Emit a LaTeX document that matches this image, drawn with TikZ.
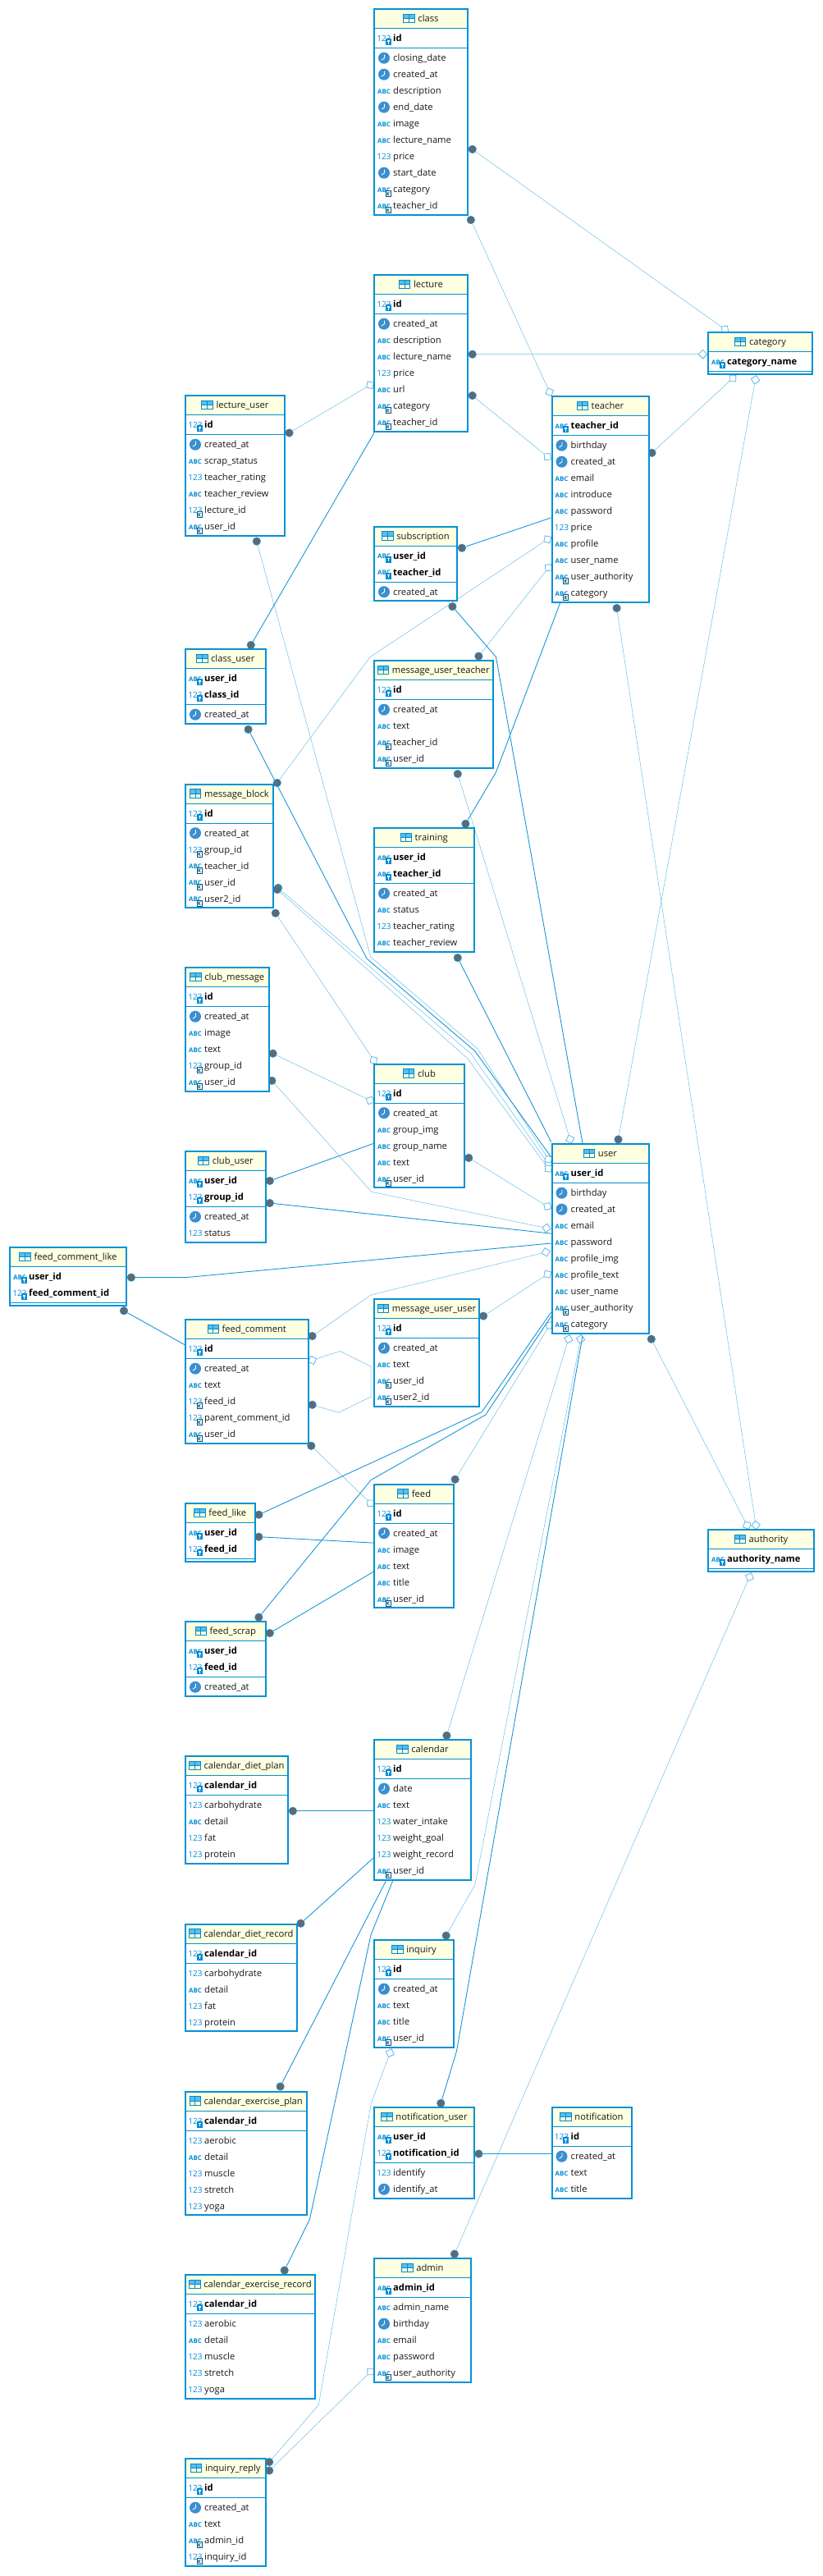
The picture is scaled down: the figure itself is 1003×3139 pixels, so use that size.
\documentclass[tikz,border=0pt]{standalone}
\usepackage{fontspec}
\setmainfont{Open Sans}
\usepackage{xcolor}
\usepackage{tikz}
\usetikzlibrary{calc}
\usetikzlibrary{positioning}

\definecolor{tabblue}{RGB}{0,146,214}
\definecolor{tabhead}{RGB}{255,255,225}
\definecolor{iconblue}{RGB}{0,140,210}
\definecolor{iconlight}{RGB}{90,190,235}
\definecolor{clockblue}{RGB}{58,143,208}
\definecolor{dotgrey}{RGB}{98,104,112}
\definecolor{linelight}{RGB}{105,190,232}
\definecolor{linedark}{RGB}{25,150,215}
\definecolor{rowink}{RGB}{25,25,25}

% small marks in front of the column names
\newcommand{\iconabc}[1]{\node[iconword,font=\fontsize{7.8}{8}\selectfont\bfseries] (#1-i) at ($(#1)+(13,1)$) {ABC};}
\newcommand{\iconnum}[1]{\node[iconword,font=\fontsize{10}{10}\selectfont] (#1-i) at ($(#1)+(13,0.5)$) {123};}
\newcommand{\iconclock}[1]{\node[clockmark] (#1-i) at ($(#1)+(13,0)$) {};
  \draw[white,line width=0.9pt] (#1-i.center) ++(0.5,-4) -- ++(0,4) -- ++(-3.5,2.5);}
\newcommand{\badgepk}[1]{\fill[iconblue] ($(#1)+(14.5,0.5)$) rectangle ++(7,8);
  \fill[white] ($(#1)+(16.5,2.5)$) rectangle ++(3,1.5);
  \fill[white] ($(#1)+(17.5,4)$) rectangle ++(1,3);}
\newcommand{\badgefk}[1]{\filldraw[fill=white,draw=iconblue!60!black,line width=0.8pt] ($(#1)+(15,2)$) rectangle ++(6,7);
  \draw[iconblue!60!black,line width=0.7pt] ($(#1)+(17,3.5)$) -- ++(0,4) ($(#1)+(19.5,3.5)$) -- ++(-2.5,2) -- ++(2.5,2);}
\newcommand{\iconabcpk}[1]{\iconabc{#1}\badgepk{#1}}
\newcommand{\iconnumpk}[1]{\iconnum{#1}\badgepk{#1}}
\newcommand{\iconabcfk}[1]{\iconabc{#1}\badgefk{#1}}
\newcommand{\iconnumfk}[1]{\iconnum{#1}\badgefk{#1}}

% table: name, left, top, width, key columns, other columns
\newcommand{\dbtable}[6]{%
  \def\nk{0}\def\nc{0}%
  \foreach \ty/\nm [count=\i] in {#5}{\xdef\nk{\i}}%
  \if\relax\detokenize{#6}\relax\else\foreach \ty/\nm [count=\i] in {#6}{\xdef\nc{\i}}\fi
  \pgfmathsetmacro\ha{24+20*\nk+4}%
  \pgfmathsetmacro\hb{\ha+20*\nc+4.5}%
  \node[tabbox,minimum width={#4-2},minimum height={\hb-2}] (#1) at (#2,#3) {};
  \fill[tabhead] (#2+2,#3+2) rectangle ++(#4-4,22);
  \draw[tabrule] (#2+1,#3+24.5) -- ++(#4-2,0);
  \draw[tabrule] (#2+1,#3+\ha+0.5) -- ++(#4-2,0);
  \node[tabtitle] (#1-title) at (#2+#4/2+9,#3+12.5) {#1};
  \node[tabicon,left=4pt of #1-title] (#1-icon) {};
  \fill[iconlight] (#1-icon.north west) rectangle (#1-icon.east);
  \draw[iconblue,line width=0.9pt] (#1-icon.north west) rectangle (#1-icon.south east)
    (#1-icon.west) -- (#1-icon.east) (#1-icon.north) -- (#1-icon.south);
  \foreach \ty/\nm [count=\i] in {#5}{
    \pgfmathsetmacro\yy{#3+36.7+20*(\i-1)}
    \coordinate (#1-k\i) at (#2,\yy);
    \csname icon\ty\endcsname{#1-k\i}
    \node[keytext,right=24pt of #1-k\i] (#1-k\i-t) {\nm};
  }
  \if\relax\detokenize{#6}\relax\else
  \foreach \ty/\nm [count=\i] in {#6}{
    \pgfmathsetmacro\yy{#3+\ha+12.7+20*(\i-1)}
    \coordinate (#1-c\i) at (#2,\yy);
    \csname icon\ty\endcsname{#1-c\i}
    \node[rowtext,right=24pt of #1-c\i] (#1-c\i-t) {\nm};
  }
  \fi
}

% open end of a link, turned along the line that reaches it
\newcommand{\relopen}[3]{\path let \p1=($(#2)-(#3)$), \n1={atan2(\y1,\x1)} in
  node[openend,rotate=\n1+45] (#1) at (#2) {};}

\catcode`\_=12

\begin{document}
\begin{tikzpicture}[x=1pt,y=-1pt]
  \tikzstyle{tabbox}=[draw=tabblue,fill=white,line width=2pt,anchor=north west,inner sep=0pt]
  \tikzstyle{tabrule}=[draw=tabblue,line width=1pt]
  \tikzstyle{tabtitle}=[inner sep=0pt,text height=10pt,text depth=2pt,text=rowink,font=\fontsize{11.2}{13}\selectfont]
  \tikzstyle{tabicon}=[minimum width=13pt,minimum height=10pt,inner sep=0pt]
  \tikzstyle{rowtext}=[inner sep=0pt,text height=10pt,text depth=2pt,text=rowink,font=\fontsize{11.2}{13}\selectfont]
  \tikzstyle{keytext}=[rowtext,font=\fontsize{11.2}{13}\selectfont\bfseries,text=black]
  \tikzstyle{iconword}=[inner sep=0pt,text=iconblue]
  \tikzstyle{clockmark}=[circle,fill=clockblue,minimum size=14pt,inner sep=0pt]
  \tikzstyle{reldot}=[circle,fill=dotgrey,draw=linedark,line width=0.6pt,minimum size=9.5pt,inner sep=0pt]
  \tikzstyle{openend}=[rectangle,draw=linedark!70!white,fill=white,line width=0.8pt,minimum size=7.5pt,inner sep=0pt]
  \tikzstyle{rel}=[draw=linelight,line width=0.5pt]
  \tikzstyle{relid}=[draw=linedark,line width=0.9pt]

  \useasboundingbox (0,0) rectangle (1003,3139);

  % links with an open end
  \foreach \id/\xa/\ya/\xb/\yb in {
    1/575.7/181.9/883.4/401.3, 2/573.8/268/669.7/477.7, 3/575.7/431.7/856.5/431.7,
    4/575.7/482/667.2/556.5, 5/352.5/527.5/451/469.2, 6/794.5/551.8/893/461,
    7/751.6/741/921.1/1858.5, 8/793.8/1631.7/910.3/1858.5, 9/753.5/1388.5/920.5/462.8,
    10/583.4/799.6/668.5/691.7, 11/557.8/943/694.7/1388.2, 12/335.8/1112.7/455.5/1291.9,
    13/332.6/1283.7/451/1340.9, 14/571.2/1410.9/667.2/1470, 15/589.1/1603.6/667.2/1552.8,
    16/379.3/1761.8/451.6/1831.8, 17/554.6/1802.7/669.7/1615.1, 18/544.4/2114.8/692.8/1631.7,
    19/328.2/3010.5/451.6/2890, 20/553.9/2746.6/913.4/1921.7}{
    \node[reldot] (d\id) at (\xa,\ya) {};
    \relopen{o\id}{\xb,\yb}{d\id}
    \draw[rel] (d\id) -- (o\id);
  }

  % same, bent once
  \foreach \id/\xa/\ya/\xv/\yv/\xb/\yb in {
    21/337.7/954/451/800.6/667.2/657.3, 22/339/1082/574/1284/668.3/1418.3,
    23/338/1084/570/1290/668.3/1424, 24/331.4/1316.9/452.9/1452.4/665.9/1496.4,
    25/380.6/1628/452.2/1577.9/665.3/1525.8, 26/543.7/2358.6/578.9/2296.4/707.5/1631.7}{
    \node[reldot] (d\id) at (\xa,\ya) {};
    \coordinate (v\id) at (\xv,\yv);
    \relopen{o\id}{\xb,\yb}{v\id}
    \draw[rel] (d\id) -- (v\id) -- (o\id);
  }

  % bent more than once
  \node[reldot] (d27) at (312.8,659.6) {};
  \coordinate (v27a) at (451.7,1166);
  \coordinate (v27b) at (582,1278);
  \relopen{o27}{668.3,1412.7}{v27b}
  \draw[rel] (d27) -- (v27a) -- (v27b) -- (o27);

  \node[reldot] (d28) at (380.6,1711.8) {};
  \coordinate (v28a) at (412.6,1721.3);
  \coordinate (v28b) at (452.2,1702);
  \coordinate (v28c) at (452.2,1665.1);
  \coordinate (v28d) at (414.5,1646.5);
  \relopen{o28}{380.6,1657.4}{v28d}
  \draw[rel] (d28) -- (v28a) -- (v28b) -- (v28c) -- (v28d) -- (o28);

  \node[reldot] (d29) at (328.2,3000) {};
  \coordinate (v29a) at (388.3,2930.5);
  \coordinate (v29b) at (452.2,2563.4);
  \relopen{o29}{475.3,2501.6}{v29b}
  \draw[rel] (d29) -- (v29a) -- (v29b) -- (o29);

  % links that end on the table edge
  \foreach \id/\xa/\ya/\xb/\yb in {
    30/562.9/667.7/671.7/630.9, 31/557.8/1167.1/671.7/1391.6, 32/328.8/1438.9/455.5/1393.3,
    33/328.8/1466/671.7/1503.1, 34/151/1597.2/226.4/1639.4, 35/315.4/1872.7/455.5/1880.1,
    36/328.8/1990/455.5/1915, 37/356.9/2206.8/455.5/2206.8, 38/366.5/2343.7/455.5/2263.6,
    39/341.6/2542.5/470.2/2292.3, 40/583.4/2624.5/671.7/2624.5, 41/305.8/786/456/527.4}{
    \node[reldot] (d\id) at (\xa,\ya) {};
    \coordinate (e\id) at (\xb,\yb);
    \draw[relid] (d\id) -- (e\id);
  }

  \foreach \id/\xa/\ya/\xv/\yv/\xb/\yb in {
    42/551.4/739.1/604.5/800.6/710/1393.3, 43/567.4/1003.8/604.5/940.9/682.5/735,
    44/159.9/1556.6/227/1556.6/671.7/1515, 45/315.4/1845.7/587.2/1720.6/671.7/1598.9,
    46/537.3/2562.8/556.5/2499.2/710/1627.6}{
    \node[reldot] (d\id) at (\xa,\ya) {};
    \coordinate (v\id) at (\xv,\yv);
    \coordinate (e\id) at (\xb,\yb);
    \draw[relid] (d\id) -- (v\id) -- (e\id);
  }

  \node[reldot] (d47) at (302.6,888.8) {};
  \coordinate (v47a) at (447,1168);
  \coordinate (v47b) at (579,1281);
  \coordinate (e47) at (671.7,1410);
  \draw[relid] (d47) -- (v47a) -- (v47b) -- (e47);

  \node[reldot] (d48) at (315.4,1970.7) {};
  \coordinate (v48a) at (452.2,1803.4);
  \coordinate (v48b) at (591.7,1724);
  \coordinate (e48) at (671.7,1604);
  \draw[relid] (d48) -- (v48a) -- (v48b) -- (e48);

  \node[reldot] (d49) at (346.7,2766.5) {};
  \coordinate (v49a) at (377.4,2704.5);
  \coordinate (v49b) at (452.2,2357.2);
  \coordinate (e49) at (478.5,2292.3);
  \draw[relid] (d49) -- (v49a) -- (v49b) -- (e49);

  % tables
  \dbtable{class}{455}{10}{116}{numpk/id}{clock/closing_date,clock/created_at,abc/description,clock/end_date,abc/image,abc/lecture_name,num/price,clock/start_date,abcfk/category,abcfk/teacher_id}
  \dbtable{lecture}{455}{334}{116}{numpk/id}{clock/created_at,abc/description,abc/lecture_name,num/price,abc/url,abcfk/category,abcfk/teacher_id}
  \dbtable{category}{862}{404}{129}{abcpk/category_name}{}
  \dbtable{lecture_user}{225}{481}{123}{numpk/id}{clock/created_at,abc/scrap_status,num/teacher_rating,abc/teacher_review,numfk/lecture_id,abcfk/user_id}
  \dbtable{teacher}{671.5}{482}{120}{abcpk/teacher_id}{clock/birthday,clock/created_at,abc/email,abc/introduce,abc/password,num/price,abc/profile,abc/user_name,abcfk/user_authority,abcfk/category}
  \dbtable{subscription}{455}{640.5}{103}{abcpk/user_id,abcpk/teacher_id}{clock/created_at}
  \dbtable{class_user}{225}{790}{99.5}{abcpk/user_id,numpk/class_id}{clock/created_at}
  \dbtable{message_user_teacher}{455}{804}{146.5}{numpk/id}{clock/created_at,abc/text,abcfk/teacher_id,abcfk/user_id}
  \dbtable{message_block}{225}{954.5}{109}{numpk/id}{clock/created_at,numfk/group_id,abcfk/teacher_id,abcfk/user_id,abcfk/user2_id}
  \dbtable{training}{455}{1008}{123.5}{abcpk/user_id,abcpk/teacher_id}{clock/created_at,abc/status,num/teacher_rating,abc/teacher_review}
  \dbtable{club_message}{225}{1178}{103.5}{numpk/id}{clock/created_at,abc/image,abc/text,numfk/group_id,abcfk/user_id}
  \dbtable{club}{455}{1295.5}{112}{numpk/id}{clock/created_at,abc/group_img,abc/group_name,abc/text,abcfk/user_id}
  \dbtable{user}{671.5}{1393}{120}{abcpk/user_id}{clock/birthday,clock/created_at,abc/email,abc/password,abc/profile_img,abc/profile_text,abc/user_name,abcfk/user_authority,abcfk/category}
  \dbtable{club_user}{225}{1402}{99.5}{abcpk/user_id,numpk/group_id}{clock/created_at,num/status}
  \dbtable{feed_comment_like}{11}{1519}{144}{abcpk/user_id,numpk/feed_comment_id}{}
  \dbtable{message_user_user}{455}{1582}{130}{numpk/id}{clock/created_at,abc/text,abcfk/user_id,abcfk/user2_id}
  \dbtable{feed_comment}{225}{1607}{151.5}{numpk/id}{clock/created_at,abc/text,numfk/feed_id,numfk/parent_comment_id,abcfk/user_id}
  \dbtable{feed}{455}{1807.5}{99}{numpk/id}{clock/created_at,abc/image,abc/text,abc/title,abcfk/user_id}
  \dbtable{feed_like}{225}{1831}{86.5}{abcpk/user_id,numpk/feed_id}{}
  \dbtable{authority}{862}{1863}{131}{abcpk/authority_name}{}
  \dbtable{feed_scrap}{225}{1975}{99.5}{abcpk/user_id,numpk/feed_id}{clock/created_at}
  \dbtable{calendar}{455}{2119}{120}{numpk/id}{clock/date,abc/text,num/water_intake,num/weight_goal,num/weight_record,abcfk/user_id}
  \dbtable{calendar_diet_plan}{225}{2139}{127}{numpk/calendar_id}{num/carbohydrate,abc/detail,num/fat,num/protein}
  \dbtable{calendar_diet_record}{225}{2343.5}{138}{numpk/calendar_id}{num/carbohydrate,abc/detail,num/fat,num/protein}
  \dbtable{inquiry}{455}{2363}{99}{numpk/id}{clock/created_at,abc/text,abc/title,abcfk/user_id}
  \dbtable{calendar_exercise_plan}{225}{2547.5}{149.5}{numpk/calendar_id}{num/aerobic,abc/detail,num/muscle,num/stretch,num/yoga}
  \dbtable{notification_user}{455}{2567}{124}{abcpk/user_id,numpk/notification_id}{num/identify,clock/identify_at}
  \dbtable{notification}{671.5}{2567}{99}{numpk/id}{clock/created_at,abc/text,abc/title}
  \dbtable{admin}{455}{2751}{120}{abcpk/admin_id}{abc/admin_name,clock/birthday,abc/email,abc/password,abcfk/user_authority}
  \dbtable{calendar_exercise_record}{225}{2771}{160}{numpk/calendar_id}{num/aerobic,abc/detail,num/muscle,num/stretch,num/yoga}
  \dbtable{inquiry_reply}{225}{2995}{99.5}{numpk/id}{clock/created_at,abc/text,abcfk/admin_id,numfk/inquiry_id}
\end{tikzpicture}
\end{document}
